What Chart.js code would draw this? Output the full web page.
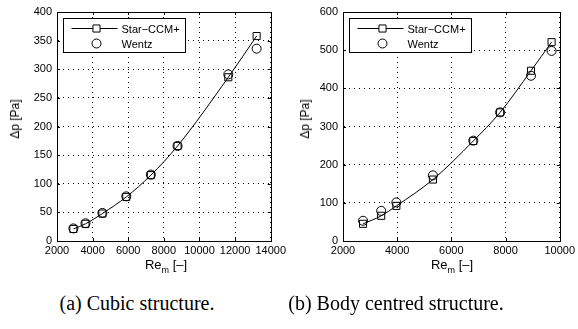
<!DOCTYPE html>
<html>
<head>
<meta charset="utf-8">
<script src="https://cdn.jsdelivr.net/npm/chart.js@4/dist/chart.umd.min.js"></script>
<style>
  body { margin: 0; background: #fff; }
  #wrap { position: relative; width: 578px; height: 329px; background: #fff; overflow: hidden; }
  canvas { position: absolute; top: 0; }
  .xtitle { position: absolute; font: 13px 'Liberation Sans', Arial, sans-serif; color: #000; white-space: nowrap; transform: translateX(-50%); }
  .xtitle sub { font-size: 9px; vertical-align: -4px; }
  .ytitle { position: absolute; font: 12px 'Liberation Sans', Arial, sans-serif; color: #000; white-space: nowrap; transform: translate(-50%, -50%) rotate(-90deg); }
  .caption { position: absolute; font: 20px 'Liberation Serif', 'Times New Roman', serif; color: #000; white-space: nowrap; transform: translateX(-50%); }
</style>
</head>
<body>
<div id="wrap">
  <canvas id="chartA" width="289" height="280" style="left:0"></canvas>
  <canvas id="chartB" width="289" height="280" style="left:289px"></canvas>
  <div class="ytitle" style="left:15px; top:119px">Δp [Pa]</div>
  <div class="ytitle" style="left:305px; top:119px">Δp [Pa]</div>
  <div class="xtitle" style="left:166px; top:257px">Re<sub>m</sub> [–]</div>
  <div class="xtitle" style="left:452px; top:257px">Re<sub>m</sub> [–]</div>
  <div class="caption" style="left:137px; top:292px">(a) Cubic structure.</div>
  <div class="caption" style="left:396px; top:292px">(b) Body centred structure.</div>
</div>
<script>
// Cubic structure
const cubicRe = [2920, 3600, 4550, 5890, 7270, 8770, 11620, 13210];
const cubicStar = [21, 30, 48, 77, 115, 166, 286, 358];
const cubicWentz = [22, 31, 49, 78, 116, 166, 291, 336];

// Body centred structure
const bccRe = [2740, 3410, 3970, 5320, 6810, 7800, 8940, 9700];
const bccStar = [45, 66, 92, 161, 262, 337, 446, 521];
const bccWentz = [53, 79, 101, 172, 263, 337, 433, 498];

const seriesNames = ['Star−CCM+', 'Wentz'];
const font = { family: "'Liberation Sans', Arial, sans-serif", size: 11 };

// frame with inward ticks on all four sides (matlab style)
const frame = {
  id: 'frame',
  afterDraw(chart) {
    const { ctx, chartArea: a, scales } = chart;
    ctx.save();
    ctx.strokeStyle = '#000';
    ctx.lineWidth = 1;
    ctx.setLineDash([]);
    ctx.strokeRect(Math.round(a.left) + 0.5, Math.round(a.top) + 0.5,
      Math.round(a.right - a.left), Math.round(a.bottom - a.top));
    const t = 3;
    ctx.beginPath();
    scales.x.ticks.forEach(tk => {
      const px = Math.round(scales.x.getPixelForValue(tk.value)) + 0.5;
      ctx.moveTo(px, a.bottom); ctx.lineTo(px, a.bottom - t);
      ctx.moveTo(px, a.top); ctx.lineTo(px, a.top + t);
    });
    scales.y.ticks.forEach(tk => {
      const py = Math.round(scales.y.getPixelForValue(tk.value)) + 0.5;
      ctx.moveTo(a.left, py); ctx.lineTo(a.left + t, py);
      ctx.moveTo(a.right, py); ctx.lineTo(a.right - t, py);
    });
    ctx.stroke();
    ctx.restore();
  }
};

// boxed legend inside the axes, top left
const boxLegend = {
  id: 'boxLegend',
  afterDraw(chart) {
    const { ctx, chartArea: a } = chart;
    const x = Math.round(a.left + 6) + 0.5, y = Math.round(a.top + 6) + 0.5;
    const w = 122, h = 34;
    ctx.save();
    ctx.fillStyle = '#fff';
    ctx.fillRect(x, y, w, h);
    ctx.strokeStyle = '#000';
    ctx.lineWidth = 1;
    ctx.setLineDash([]);
    ctx.strokeRect(x, y, w, h);
    ctx.font = font.size + 'px ' + font.family;
    ctx.textBaseline = 'middle';
    chart.data.datasets.forEach((ds, i) => {
      const ry = y + 10 + i * 15;
      if (ds.showLine) {
        ctx.beginPath();
        ctx.moveTo(x + 8, ry); ctx.lineTo(x + 54, ry);
        ctx.stroke();
      }
      ctx.fillStyle = '#fff';
      Chart.helpers.drawPoint(ctx, {
        pointStyle: ds.pointStyle, radius: ds.pointRadius, borderWidth: 1
      }, x + 33, ry);
      ctx.fillStyle = '#000';
      ctx.fillText(ds.label, x + 58, ry + 1);
    });
    ctx.restore();
  }
};

function makeChart(id, re, star, wentz, xMax, yMax, yStep, yAxisW, padRight) {
  new Chart(document.getElementById(id), {
    type: 'scatter',
    data: {
      datasets: [
        {
          label: seriesNames[0],
          data: re.map((v, i) => ({ x: v, y: star[i] })),
          showLine: true,
          cubicInterpolationMode: 'monotone',
          borderColor: '#000',
          borderWidth: 1,
          pointStyle: 'rect',
          pointRadius: 5,
          pointBorderWidth: 1,
          pointBackgroundColor: 'rgba(0,0,0,0)',
          pointBorderColor: '#000'
        },
        {
          label: seriesNames[1],
          data: re.map((v, i) => ({ x: v, y: wentz[i] })),
          showLine: false,
          borderColor: '#000',
          pointStyle: 'circle',
          pointRadius: 4.5,
          pointBorderWidth: 1,
          pointBackgroundColor: 'rgba(0,0,0,0)',
          pointBorderColor: '#000'
        }
      ]
    },
    options: {
      responsive: false,
      animation: false,
      layout: { padding: { top: 12, right: padRight, left: 0, bottom: 0 } },
      plugins: { legend: { display: false }, tooltip: { enabled: false } },
      scales: {
        x: {
          type: 'linear', min: 2000, max: xMax,
          ticks: { stepSize: 2000, color: '#000', font: font, padding: 3, maxRotation: 0,
                   autoSkip: false, callback: v => String(v) },
          grid: { color: '#000', lineWidth: 1, drawTicks: false },
          border: { display: true, color: '#000', dash: [1, 4] },
          afterFit: s => { s.height = 39; }
        },
        y: {
          min: 0, max: yMax,
          ticks: { stepSize: yStep, color: '#000', font: font, padding: 5,
                   autoSkip: false, callback: v => String(v) },
          grid: { color: '#000', lineWidth: 1, drawTicks: false },
          border: { display: true, color: '#000', dash: [1, 4] },
          afterFit: s => { s.width = yAxisW; }
        }
      }
    },
    plugins: [frame, boxLegend]
  });
}

makeChart('chartA', cubicRe, cubicStar, cubicWentz, 14000, 400, 50, 57, 14);
makeChart('chartB', bccRe, bccStar, bccWentz, 10000, 600, 100, 54, 17);
</script>
</body>
</html>
